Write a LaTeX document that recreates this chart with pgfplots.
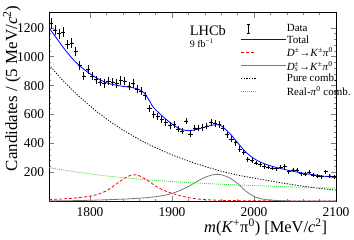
\documentclass[border=0pt]{standalone}
\usepackage{amsmath}
\usepackage{xcolor}
\usepackage{fontspec}
\setmainfont{Liberation Serif}
\usepackage{pgfplots}
\pgfplotsset{compat=1.18}
\usepackage{pgfplotstable}

\definecolor{rgreen}{RGB}{60,220,60}
\definecolor{dsgray}{RGB}{120,120,120}

\newcommand{\dashsample}[4]{% colour, dash length, gap, count
  \textcolor{#1}{\rule[-0.4bp]{#2}{0.8bp}\foreach \i in {2,...,#4}{\hspace{#3}\rule[-0.4bp]{#2}{0.8bp}}}}

\pgfplotstableread{
x y ex ey
1752.5 1230 2.5 35
1757.5 1185 2.5 34
1762.5 1160 2.5 34
1767.5 1170 2.5 34
1772.5 1085 2.5 33
1777.5 1095 2.5 33
1782.5 1035 2.5 32
1787.5 940 2.5 31
1792.5 865 2.5 29
1797.5 910 2.5 30
1802.5 865 2.5 29
1807.5 840 2.5 29
1812.5 825 2.5 29
1817.5 815 2.5 29
1822.5 830 2.5 29
1827.5 825 2.5 29
1832.5 815 2.5 29
1837.5 835 2.5 29
1842.5 830 2.5 29
1847.5 795 2.5 28
1852.5 815 2.5 29
1857.5 775 2.5 28
1862.5 760 2.5 28
1867.5 730 2.5 27
1872.5 640 2.5 25
1877.5 600 2.5 24
1882.5 585 2.5 24
1887.5 565 2.5 24
1892.5 545 2.5 23
1897.5 525 2.5 23
1902.5 530 2.5 23
1907.5 500 2.5 22
1912.5 485 2.5 22
1917.5 555 2.5 24
1922.5 465 2.5 22
1927.5 505 2.5 22
1932.5 505 2.5 22
1937.5 510 2.5 23
1942.5 520 2.5 23
1947.5 545 2.5 23
1952.5 540 2.5 23
1957.5 530 2.5 23
1962.5 505 2.5 22
1967.5 460 2.5 21
1972.5 430 2.5 21
1977.5 405 2.5 20
1982.5 360 2.5 19
1987.5 335 2.5 18
1992.5 290 2.5 17
1997.5 280 2.5 17
2002.5 265 2.5 16
2007.5 255 2.5 16
2012.5 240 2.5 15
2017.5 235 2.5 15
2022.5 230 2.5 15
2027.5 225 2.5 15
2032.5 235 2.5 15
2037.5 240 2.5 15
2042.5 205 2.5 14
2047.5 215 2.5 15
2052.5 215 2.5 15
2057.5 190 2.5 14
2062.5 185 2.5 14
2067.5 200 2.5 14
2072.5 180 2.5 13
2077.5 175 2.5 13
2082.5 170 2.5 13
2087.5 205 2.5 14
2092.5 175 2.5 13
2097.5 170 2.5 13
}\datatable

\begin{document}
\begin{tikzpicture}
\begin{axis}[
  scale only axis, width=287bp, height=188.5bp,
  xmin=1750, xmax=2100, ymin=0, ymax=1305,
  xtick={1800,1900,2000,2100}, ytick={200,400,...,1200},
  minor x tick num=4, minor y tick num=4,
  tick pos=both, tick align=inside,
  major tick length=5bp, minor tick length=2.5bp,
  axis line style={line width=0.8bp},
  tick style={line width=0.6bp},
  /pgf/number format/assume math mode=true,
  /pgf/number format/1000 sep={},
  ticklabel style={font=\fontsize{13.5}{15}\selectfont},
  xticklabel style={yshift=-2.5bp},
  yticklabel style={xshift=-1.5bp},
  xlabel={\textit{m}(\textit{K}\textsuperscript{+}π\textsuperscript{0}) [MeV/\textit{c}\textsuperscript{2}]},
  ylabel={Candidates / (5 MeV/\textit{c}\textsuperscript{2})},
  xlabel style={font=\fontsize{16.5}{18}\selectfont, at={(axis description cs:0.97,-0.09)}, anchor=north east, inner sep=0pt},
  ylabel style={font=\fontsize{17}{18}\selectfont, at={(axis description cs:-0.129,1.04)}, anchor=east, inner sep=0pt},
  legend style={at={(rel axis cs:0.668,0.945)}, anchor=north west, draw=none, fill=none,
    font=\fontsize{11}{12}\selectfont, row sep=0.8bp, inner sep=0pt,
    nodes={inner sep=1bp}},
  legend cell align=left,
]
\coordinate (sw) at (rel axis cs:0,0);
\coordinate (ne) at (rel axis cs:1,1);

% Data (drawn first for legend order)
\addplot[black, only marks, mark=*, mark size=0.5bp, line width=0.7bp,
  legend image code/.code={
    \draw[black,line width=0.8bp] (7.5bp,-4.5bp) -- (7.5bp,4.5bp);
    \draw[black,line width=0.8bp] (6bp,-4.5bp) -- (9bp,-4.5bp) (6bp,4.5bp) -- (9bp,4.5bp);},
  error bars/.cd, x dir=both, x explicit, y dir=both, y explicit,
  error mark=none, error bar style={line width=0.8bp, black}]
  table[x=x, y=y, x error=ex, y error=ey] {\datatable};
\addlegendentry{Data}
% Total
\addplot[blue, line width=0.8bp, smooth, tension=0.5,
  legend image code/.code={\node[inner sep=0pt, anchor=west] at (0bp,0bp) {\dashsample{blue}{15bp}{0bp}{1}};}] coordinates {
(1750,1200)(1760,1122)(1770,1045)(1780,978)(1790,925)(1800,882)(1810,847)(1820,820)(1830,805)(1840,795)
(1850,788)(1860,773)(1865,755)(1870,718)(1877,652)(1885,606)(1890,580)(1900,535)(1910,500)(1920,488)
(1930,497)(1940,513)(1950,527)(1955,530)(1960,522)(1970,472)(1980,405)(1990,340)(2000,295)(2010,265)
(2020,245)(2030,230)(2040,216)(2050,204)(2060,194)(2070,185)(2080,177)(2090,170)(2100,164)};
\addlegendentry{Total}
% D+ -> K+ pi0
\addplot[red, line width=0.8bp, dash pattern=on 3bp off 2bp, smooth,
  legend image code/.code={\node[inner sep=0pt, anchor=west] at (0bp,0bp) {\dashsample{red}{3bp}{2bp}{3}};}] coordinates {
(1750,12)(1760,14)(1770,17)(1780,21)(1790,27)(1800,35)(1810,48)(1820,72)(1830,110)(1840,152)
(1850,180)(1855,183)(1860,176)(1870,145)(1880,105)(1890,75)(1900,55)(1910,38)(1920,25)(1930,16)
(1940,11)(1950,8)(1960,6)(1970,5)(1980,4)(1990,3)(2000,3)(2050,2)(2100,1)};
\addlegendentry{\textit{D}\textsuperscript{±}→\textit{K}\textsuperscript{±}\textit{π}\textsuperscript{0}}
% Ds+ -> K+ pi0
\addplot[dsgray, line width=0.8bp, smooth,
  legend image code/.code={\node[inner sep=0pt, anchor=west] at (0bp,0bp) {\dashsample{dsgray}{15bp}{0bp}{1}};}] coordinates {
(1750,2)(1770,3)(1790,5)(1810,8)(1830,12)(1850,17)(1870,25)(1880,31)(1890,40)(1900,54)
(1910,75)(1920,102)(1930,135)(1940,165)(1950,183)(1955,186)(1960,183)(1970,162)(1980,122)(1990,70)
(2000,33)(2010,15)(2020,8)(2030,4)(2040,2)(2060,1)(2100,0.5)};
\addlegendentry{\textit{D}\textsubscript{\textit{s}}\kern-0.35em\textsuperscript{±}→\textit{K}\textsuperscript{±}\textit{π}\textsuperscript{0}}
% Pure combinatorial
\addplot[black, line width=0.8bp, dash pattern=on 1.2bp off 1.5bp, smooth,
  legend image code/.code={\node[inner sep=0pt, anchor=west] at (0bp,0bp) {\dashsample{black}{1.2bp}{1.5bp}{6}};}] coordinates {
(1750,945)(1760,879)(1770,818)(1780,761)(1790,709)(1800,659)(1810,613)(1820,571)(1830,531)(1840,494)
(1850,460)(1860,428)(1870,398)(1880,371)(1890,345)(1900,321)(1910,299)(1920,278)(1930,259)(1940,241)
(1950,224)(1960,208)(1970,194)(1980,181)(1990,170)(2000,160)(2010,150)(2020,140)(2030,130)(2040,121)
(2050,112)(2060,104)(2070,96)(2080,89)(2090,83)(2100,77)};
\addlegendentry{Pure comb.}
% Real-pi0 combinatorial
\addplot[rgreen, line width=0.8bp, dash pattern=on 1bp off 1bp, smooth,
  legend image code/.code={\node[inner sep=0pt, anchor=west] at (0bp,0bp) {\dashsample{rgreen}{1bp}{1bp}{8}};}] coordinates {
(1750,232)(1760,223)(1770,214)(1780,205)(1790,197)(1800,189)(1810,182)(1820,175)(1830,169)(1840,163)
(1850,158)(1860,153)(1870,148)(1880,144)(1890,140)(1900,136)(1910,132)(1920,129)(1930,126)(1940,123)
(1950,120)(1960,117)(1970,115)(1980,112)(1990,110)(2000,108)(2010,106)(2020,104)(2030,102)(2040,100)
(2050,98)(2060,96)(2070,95)(2080,93)(2090,92)(2100,90)};
\addlegendentry{Real-\textit{π}\textsuperscript{0} comb.}

\node[anchor=north west, inner sep=0pt, align=left, font=\fontsize{14.5}{15}\selectfont]
  at (rel axis cs:0.49,0.935) {LHCb\\[-3bp]{\fontsize{10}{11}\selectfont 9 fb\textsuperscript{−1}}};
\end{axis}
\pgfresetboundingbox
\path ([shift={(-49bp,-38.5bp)}]sw) rectangle ([shift={(18bp,12.7bp)}]ne);
\end{tikzpicture}
\end{document}
